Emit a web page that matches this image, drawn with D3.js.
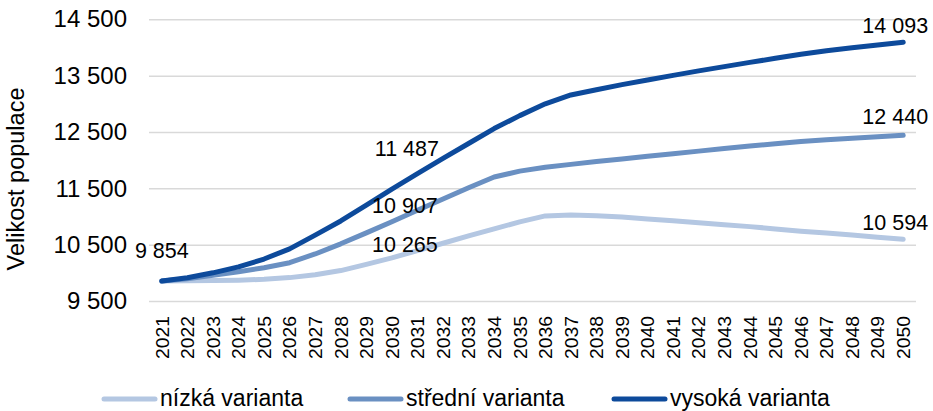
<!DOCTYPE html>
<html>
<head>
<meta charset="utf-8">
<script src="https://cdn.jsdelivr.net/npm/d3@7"></script>
<style>
  body { margin: 0; background: #fff; }
  text { font-family: "Liberation Sans", Arial, sans-serif; fill: #000; }
</style>
</head>
<body>
<main></main>
<script>
var w = 933;
var h = 411;

var years = [2021, 2022, 2023, 2024, 2025, 2026, 2027, 2028, 2029, 2030,
  2031, 2032, 2033, 2034, 2035, 2036, 2037, 2038, 2039, 2040,
  2041, 2042, 2043, 2044, 2045, 2046, 2047, 2048, 2049, 2050];

var nizka = [9854, 9858, 9862, 9870, 9885, 9915, 9965, 10040, 10150, 10265,
  10395, 10525, 10655, 10780, 10905, 11010, 11025, 11015, 10990, 10955,
  10925, 10890, 10855, 10820, 10780, 10740, 10705, 10670, 10630, 10594];

var stredni = [9854, 9895, 9955, 10020, 10090, 10180, 10335, 10515, 10710, 10907,
  11110, 11310, 11510, 11700, 11805, 11875, 11925, 11975, 12020, 12070,
  12115, 12160, 12205, 12250, 12290, 12330, 12360, 12390, 12415, 12440];

var vysoka = [9854, 9914, 10000, 10105, 10245, 10425, 10670, 10920, 11200, 11487,
  11760, 12030, 12295, 12560, 12790, 13000, 13157, 13250, 13340, 13423,
  13505, 13585, 13660, 13735, 13808, 13880, 13940, 13995, 14045, 14093];

var seriesNames = ["nízká varianta", "střední varianta", "vysoká varianta"];
var yTicks = [9500, 10500, 11500, 12500, 13500, 14500];
var yTitle = "Velikost populace";

// which points get a value label: [series index, year]
var labelled = [[2, 2021], [2, 2030], [1, 2030], [0, 2030], [2, 2050], [1, 2050], [0, 2050]];

// styles
var colors = ["#b4c7e2", "#6a90c2", "#0d4a9b"];
var labelShift = {
  "2-2021": [0, -23], "2-2030": [15, -33], "1-2030": [13, -9], "0-2030": [13, -6],
  "2-2050": [-8, -9], "1-2050": [-8, -11], "0-2050": [-8, -9.5]
};
var legendX = [102, 348, 612];

var series = [nizka, stredni, vysoka];
var fmt = d3.formatLocale({ decimal: ",", thousands: " ", grouping: [3] }).format(",d");

var svg = d3.select("main").append("svg").attr("width", w).attr("height", h);

// SCALES
var xScale = d3.scalePoint().domain(years).range([149, 916]).padding(0.5);
var yScale = d3.scaleLinear().domain([9500, 14500]).range([301, 19.3]);

// Y AXIS with gridlines
var yAxis = d3.axisLeft(yScale).tickValues(yTicks).tickFormat(fmt).tickSize(-(916 - 149)).tickPadding(22);
var gy = svg.append("g").attr("transform", "translate(149,0)").call(yAxis);
gy.select(".domain").remove();
gy.selectAll(".tick line").attr("stroke", "#d9d9d9").attr("stroke-width", 1.5);
gy.selectAll(".tick text").attr("font-size", "24px").attr("font-family", null).attr("fill", "#000");

// X AXIS, rotated years
var xAxis = d3.axisBottom(xScale).tickSize(0).tickPadding(0);
var gx = svg.append("g").attr("transform", "translate(0,316)").call(xAxis);
gx.select(".domain").remove();
gx.selectAll(".tick text")
  .attr("font-size", "17.5px")
  .attr("font-family", null)
  .attr("fill", "#000")
  .attr("text-anchor", "end")
  .attr("transform", "rotate(-90)")
  .attr("x", 0)
  .attr("y", 0)
  .attr("dy", "0.36em")
  .attr("textLength", 43)
  .attr("lengthAdjust", "spacingAndGlyphs");

// y axis title
svg.append("text")
  .attr("transform", "translate(24,179) rotate(-90)")
  .attr("text-anchor", "middle")
  .attr("font-size", "23.5px")
  .text(yTitle);

// LINES
var line = d3.line()
  .x(function (d, i) { return xScale(years[i]); })
  .y(function (d) { return yScale(d); });

series.forEach(function (s, k) {
  svg.append("path")
    .datum(s)
    .attr("fill", "none")
    .attr("stroke", colors[k])
    .attr("stroke-width", 5)
    .attr("stroke-linecap", "round")
    .attr("stroke-linejoin", "round")
    .attr("d", line);
});

// DATA LABELS
labelled.forEach(function (l) {
  var k = l[0], yr = l[1];
  var v = series[k][years.indexOf(yr)];
  var sh = labelShift[k + "-" + yr];
  svg.append("text")
    .attr("x", xScale(yr) + sh[0])
    .attr("y", yScale(v) + sh[1])
    .attr("text-anchor", "middle")
    .attr("font-size", "21.5px")
    .text(fmt(v));
});

// LEGEND
seriesNames.forEach(function (name, k) {
  var g = svg.append("g").attr("transform", "translate(" + legendX[k] + ",399)");
  g.append("line")
    .attr("x1", 2).attr("x2", 53)
    .attr("stroke", colors[k])
    .attr("stroke-width", 5)
    .attr("stroke-linecap", "round");
  g.append("text")
    .attr("x", 58)
    .attr("y", 7)
    .attr("font-size", "23px")
    .text(name);
});
</script>
</body>
</html>
